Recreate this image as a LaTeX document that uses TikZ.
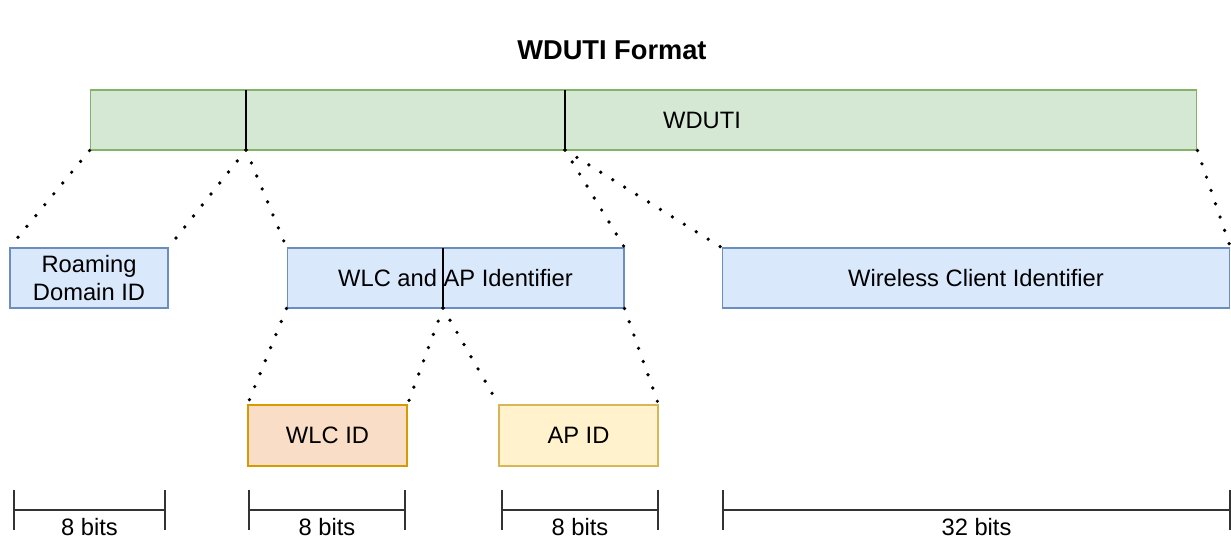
\documentclass[tikz,border=0pt]{standalone}
\usepackage{fontspec}
\setmainfont{Liberation Sans}
\usetikzlibrary{arrows.meta}

\begin{document}
\begin{tikzpicture}
    [x=0.02cm,y=-0.02cm,font=\fontsize{13.5}{15.5}\selectfont,
     fld/.style={draw,inner sep=0pt,align=center,line width=0.6pt},
     green/.style={fld,fill={rgb,255:red,213;green,232;blue,212},draw={rgb,255:red,130;green,179;blue,102}},
     blue/.style={fld,fill={rgb,255:red,218;green,232;blue,252},draw={rgb,255:red,108;green,142;blue,191}},
     orange/.style={fld,fill={rgb,255:red,250;green,221;blue,198},draw={rgb,255:red,215;green,155;blue,0}},
     yellow/.style={fld,fill={rgb,255:red,255;green,242;blue,204},draw={rgb,255:red,214;green,182;blue,86}},
     dots/.style={line width=2.1pt,line cap=round,dash pattern=on 0pt off 8pt},
     span/.style={{Bar[width=0.8cm]}-{Bar[width=0.8cm]},line width=0.9pt,black!80}]
    \useasboundingbox (0,0) rectangle (1231,541);
    \node[font=\fontsize{15.5}{18}\selectfont\bfseries] (title) at (612,50) {WDUTI Format};
    % top field
    \node[green,minimum width=22.14cm,minimum height=1.2cm] (wduti) at (643.5,120) {};
    \node (wdutilbl) at (702,120) {WDUTI};
    \coordinate (d1t) at (246,90);  \coordinate (d1b) at (246,150);
    \coordinate (d2t) at (565,90);  \coordinate (d2b) at (565,150);
    \draw[line width=0.8pt] (d1t) -- (d1b);
    \draw[line width=0.8pt] (d2t) -- (d2b);
    % second row
    \node[blue,minimum width=3.16cm,minimum height=1.2cm] (rdid) at (89,278) {Roaming\\Domain ID};
    \node[blue,minimum width=6.74cm,minimum height=1.2cm] (wlcap) at (455.5,278) {WLC and AP Identifier};
    \node[blue,minimum width=10.16cm,minimum height=1.2cm] (wcid) at (976,278) {Wireless Client Identifier};
    \coordinate (d3t) at (443,248); \coordinate (d3b) at (443,308);
    \draw[line width=0.8pt] (d3t) -- (d3b);
    \draw[dots] (wduti.south west) -- (rdid.north west);
    \draw[dots] (d1b) -- (rdid.north east);
    \draw[dots] (d1b) -- (wlcap.north west);
    \draw[dots] (d2b) -- (wlcap.north east);
    \draw[dots] (d2b) -- (wcid.north west);
    \draw[dots] (wduti.south east) -- (wcid.north east);
    % third row
    \node[orange,minimum width=3.18cm,minimum height=1.22cm] (wlcid) at (327.5,435.5) {WLC ID};
    \node[yellow,minimum width=3.18cm,minimum height=1.22cm] (apid) at (578.5,435.5) {AP ID};
    \draw[dots] (wlcap.south west) -- (wlcid.north west);
    \draw[dots] (d3b) -- (wlcid.north east);
    \draw[dots] (d3b) -- (apid.north west);
    \draw[dots] (wlcap.south east) -- (apid.north east);
    % bit widths
    \foreach \a/\b/\t/\n in {13/166/8 bits/rdbits,248/406/8 bits/wlcbits,501/659/8 bits/apbits,722/1231/32 bits/wcbits}{
      \coordinate (\n l) at (\a,510);
      \coordinate (\n r) at (\b,510);
      \draw[span] (\n l) -- (\n r);
      \node (\n) at ({(\a+\b)/2},527) {\t};
    }
\end{tikzpicture}
\end{document}
